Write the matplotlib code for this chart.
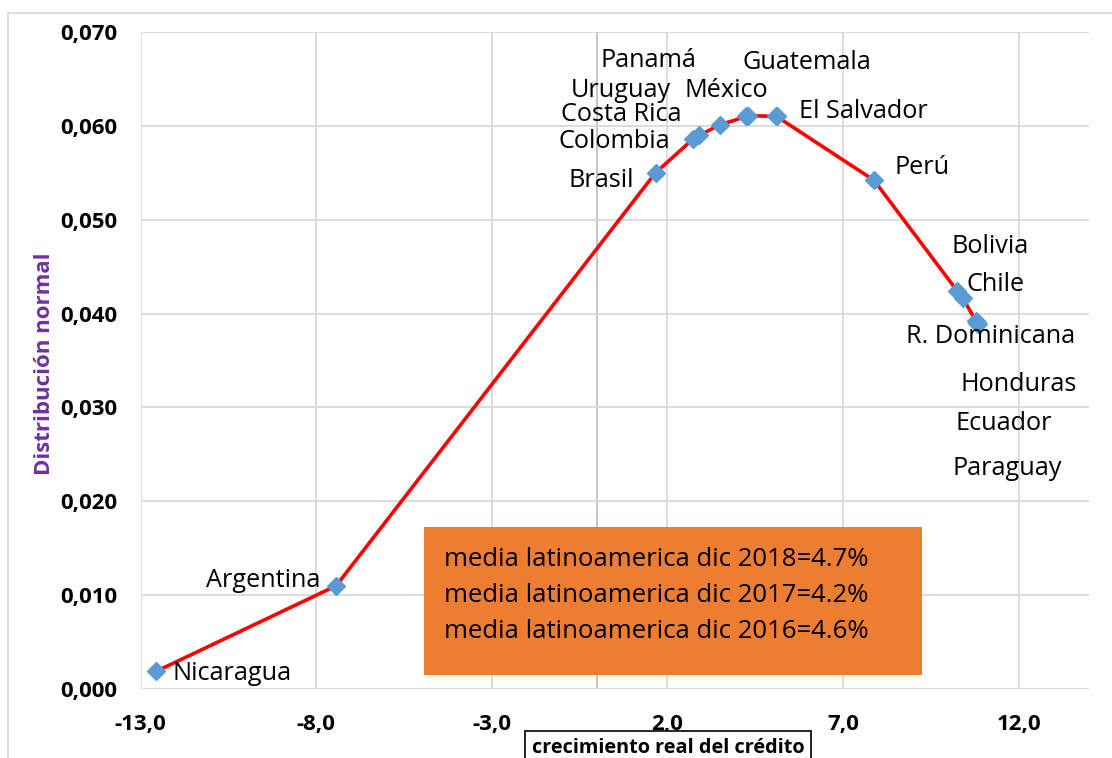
import matplotlib
matplotlib.use("Agg")
import matplotlib.pyplot as plt
import numpy as np
from matplotlib.patches import Rectangle
from matplotlib.ticker import MultipleLocator, FuncFormatter

# datos: crecimiento real del credito vs distribucion normal
paises = ["Nicaragua", "Argentina", "Brasil", "Colombia", "Costa Rica", "Uruguay",
          "Panamá", "México", "Guatemala", "El Salvador", "Perú", "Bolivia", "Chile",
          "R. Dominicana", "Honduras", "Ecuador", "Paraguay"]
crecimiento = [-12.56, -7.43, 1.66, 2.73, 2.91, 3.49, 4.24, 4.29, 5.08, 5.11, 7.88,
               10.25, 10.40, 10.78, 10.80, 10.82, 10.84]
densidad = [0.00187, 0.0110, 0.0550, 0.0586, 0.0590, 0.0601, 0.0610, 0.0611, 0.0610,
            0.0610, 0.0542, 0.0424, 0.0417, 0.0392, 0.0391, 0.0390, 0.0389]
ticks_x = [-13, -8, -3, 2, 7, 12]

# posiciones de las etiquetas (movidas a mano como en el original)
etiqueta_x = [-10.40, -9.50, 0.11, 0.49, 0.68, 0.66, 1.46, 3.68, 5.98, 7.58, 9.24,
              11.18, 11.34, 11.20, 12.01, 11.56, 11.68]
etiqueta_y = [0.0017, 0.0116, 0.0542, 0.0583, 0.0612, 0.0638, 0.0670, 0.0638, 0.0668,
              0.0615, 0.0556, 0.0471, 0.0431, 0.0376, 0.0324, 0.0283, 0.0235]

medias = ["media latinoamerica dic 2018=4.7%",
          "media latinoamerica dic 2017=4.2%",
          "media latinoamerica dic 2016=4.6%"]

fuente = "Open Sans"

fig = plt.figure(figsize=(11.12, 7.58), dpi=100)
# borde exterior del grafico
fig.patches.append(Rectangle((8 / 1112, -0.1), 1.2, 1 - 13 / 758 + 0.1,
                             transform=fig.transFigure, fill=False,
                             edgecolor="#D9D9D9", linewidth=1.2))
ax = fig.add_axes([140.5 / 1112, 1 - 689 / 758, 948.5 / 1112, 657 / 758])

ax.set_xlim(-13, 14)
ax.set_ylim(0, 0.07)
ax.set_xticks(ticks_x)
ax.yaxis.set_major_locator(MultipleLocator(0.01))
ax.xaxis.set_major_formatter(FuncFormatter(lambda v, p: ("%.1f" % v).replace(".", ",")))
ax.yaxis.set_major_formatter(FuncFormatter(lambda v, p: ("%.3f" % v).replace(".", ",")))
ax.grid(True, color="#D9D9D9", linewidth=1.3)
ax.set_axisbelow(True)
for s in ax.spines.values():
    s.set_visible(False)
ax.axvline(0, color="#BFBFBF", linewidth=1.3, zorder=0.5)
ax.tick_params(length=0)
ax.tick_params(axis="y", pad=16.5)
ax.tick_params(axis="x", pad=18)
for lab in ax.get_xticklabels() + ax.get_yticklabels():
    lab.set_fontfamily(fuente)
    lab.set_fontweight("bold")
    lab.set_fontsize(16)

ax.plot(crecimiento, densidad, color="#FF0000", linewidth=2.6, zorder=3)
ax.plot(crecimiento, densidad, linestyle="none", marker="D", markersize=9,
        color="#5B9BD5", zorder=4)

for nombre, tx, ty in zip(paises, etiqueta_x, etiqueta_y):
    ax.text(tx, ty, nombre, ha="center", va="center", fontsize=18.2,
            family=fuente, color="black", zorder=5)

# recuadro naranja con las medias
ax.add_patch(Rectangle((423.5 / 1112, 1 - 675 / 758), (922 - 423.5) / 1112,
                       (675 - 527) / 758, transform=fig.transFigure,
                       facecolor="#ED7D31", edgecolor="none", zorder=6))
for i, linea in enumerate(medias):
    fig.text(444 / 1112, 1 - (566 + 36 * i) / 758, linea, ha="left", va="baseline",
             fontsize=18.5, family=fuente, color="black", zorder=7)

ax.set_ylabel("Distribución normal", color="#7030A0", fontsize=16,
              fontweight="bold", family=fuente)
ax.yaxis.set_label_coords(-0.0903, 0.495)
fig.text(668 / 1112, 1 - 748 / 758, "crecimiento real del crédito", ha="center",
         va="center", fontsize=14.3, fontweight="bold", family=fuente, zorder=10,
         bbox=dict(boxstyle="square,pad=0.35", facecolor="white",
                   edgecolor="black", linewidth=1.2))

fig.savefig("out.png", dpi=100)
